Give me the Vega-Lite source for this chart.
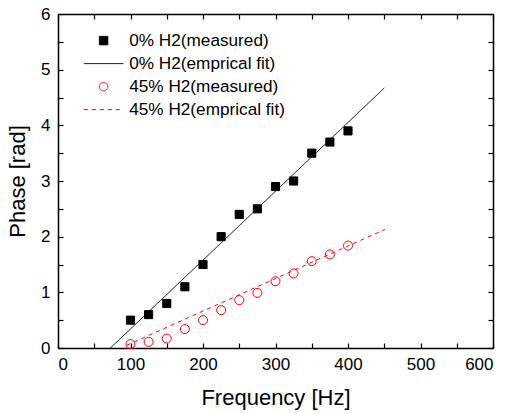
{
  "$schema": "https://vega.github.io/schema/vega-lite/v6.json",
  "width": 435,
  "height": 334,
  "autosize": {"type": "none"},
  "padding": {"left": 58, "top": 14, "right": 15, "bottom": 66},
  "config": {
    "font": "Liberation Sans",
    "view": {"stroke": null},
    "axis": {
      "grid": false,
      "domainColor": "black",
      "domainWidth": 1.5,
      "tickColor": "black",
      "tickWidth": 1.2,
      "tickSize": -5,
      "labelFontSize": 17,
      "labelColor": "black",
      "labelPadding": 13,
      "titleFontSize": 22,
      "titleFontWeight": "normal",
      "titleColor": "black"
    },
    "legend": {
      "orient": "none",
      "legendX": 37,
      "legendY": 18,
      "padding": 0,
      "labelFont": "Liberation Sans",
      "labelFontSize": 17.2,
      "labelColor": "black",
      "symbolSize": 72,
      "symbolStrokeWidth": 1,
      "symbolOpacity": 1,
      "symbolOffset": 0,
      "labelOffset": 17,
      "rowPadding": 5
    }
  },
  "resolve": {"axis": {"x": "independent", "y": "independent"}},
  "data": {
    "values": [
      {"series": "  0% H2(measured)", "f": 100, "p": 0.5},
      {"series": "  0% H2(measured)", "f": 125, "p": 0.6},
      {"series": "  0% H2(measured)", "f": 150, "p": 0.8},
      {"series": "  0% H2(measured)", "f": 175, "p": 1.1},
      {"series": "  0% H2(measured)", "f": 200, "p": 1.5},
      {"series": "  0% H2(measured)", "f": 225, "p": 2.0},
      {"series": "  0% H2(measured)", "f": 250, "p": 2.4},
      {"series": "  0% H2(measured)", "f": 275, "p": 2.5},
      {"series": "  0% H2(measured)", "f": 300, "p": 2.9},
      {"series": "  0% H2(measured)", "f": 325, "p": 3.0},
      {"series": "  0% H2(measured)", "f": 350, "p": 3.5},
      {"series": "  0% H2(measured)", "f": 375, "p": 3.7},
      {"series": "  0% H2(measured)", "f": 400, "p": 3.9},
      {"series": "  0% H2(emprical fit)", "f": 72.3, "p": 0},
      {"series": "  0% H2(emprical fit)", "f": 450, "p": 4.67},
      {"series": "45% H2(measured)", "f": 100, "p": 0.07},
      {"series": "45% H2(measured)", "f": 125, "p": 0.11},
      {"series": "45% H2(measured)", "f": 150, "p": 0.17},
      {"series": "45% H2(measured)", "f": 175, "p": 0.34},
      {"series": "45% H2(measured)", "f": 200, "p": 0.5},
      {"series": "45% H2(measured)", "f": 225, "p": 0.68},
      {"series": "45% H2(measured)", "f": 250, "p": 0.86},
      {"series": "45% H2(measured)", "f": 275, "p": 0.99},
      {"series": "45% H2(measured)", "f": 300, "p": 1.2},
      {"series": "45% H2(measured)", "f": 325, "p": 1.34},
      {"series": "45% H2(measured)", "f": 350, "p": 1.56},
      {"series": "45% H2(measured)", "f": 375, "p": 1.68},
      {"series": "45% H2(measured)", "f": 400, "p": 1.84},
      {"series": "45% H2(emprical fit)", "f": 95, "p": 0.05},
      {"series": "45% H2(emprical fit)", "f": 451, "p": 2.13}
    ]
  },
  "layer": [
    {
      "transform": [{"filter": "indexof(datum.series, '45%') < 0 && indexof(datum.series, 'measured') >= 0"}],
      "mark": {"type": "point", "size": 66, "strokeWidth": 1, "opacity": 1},
      "encoding": {
        "x": {
          "field": "f", "type": "quantitative",
          "scale": {"domain": [0, 600], "nice": false},
          "axis": {
            "orient": "bottom",
            "values": [0, 50, 100, 150, 200, 250, 300, 350, 400, 450, 500, 550, 600],
            "labelExpr": "datum.value % 100 === 0 ? '' + datum.value : ''",
            "title": "Frequency [Hz]",
            "titleBaseline": "alphabetic",
            "titleY": 56
          }
        },
        "y": {
          "field": "p", "type": "quantitative",
          "scale": {"domain": [0, 6], "nice": false},
          "axis": {
            "orient": "left",
            "values": [0, 0.5, 1, 1.5, 2, 2.5, 3, 3.5, 4, 4.5, 5, 5.5, 6],
            "labelExpr": "datum.value % 1 === 0 ? '' + datum.value : ''",
            "title": "Phase [rad]",
            "titleBaseline": "alphabetic",
            "titleX": -34
          }
        },
        "shape": {
          "field": "series", "type": "nominal", "legend": {"title": null},
          "scale": {
            "domain": ["  0% H2(measured)", "  0% H2(emprical fit)", "45% H2(measured)", "45% H2(emprical fit)"],
            "range": ["square", "M-4.67,0H4.67", "circle", "M-4.67,0H4.67"]
          }
        },
        "fill": {
          "field": "series", "type": "nominal", "legend": {"title": null},
          "scale": {
            "domain": ["  0% H2(measured)", "  0% H2(emprical fit)", "45% H2(measured)", "45% H2(emprical fit)"],
            "range": ["black", "transparent", "transparent", "transparent"]
          }
        },
        "stroke": {
          "field": "series", "type": "nominal", "legend": {"title": null},
          "scale": {
            "domain": ["  0% H2(measured)", "  0% H2(emprical fit)", "45% H2(measured)", "45% H2(emprical fit)"],
            "range": ["black", "black", "red", "red"]
          }
        }
      }
    },
    {
      "transform": [{"filter": "indexof(datum.series, '45%') < 0 && indexof(datum.series, 'fit') >= 0"}],
      "mark": {"type": "line", "strokeWidth": 1},
      "encoding": {
        "x": {
          "field": "f", "type": "quantitative",
          "axis": {
            "orient": "top",
            "values": [0, 50, 100, 150, 200, 250, 300, 350, 400, 450, 500, 550, 600],
            "labels": false,
            "title": null
          }
        },
        "y": {
          "field": "p", "type": "quantitative",
          "axis": {
            "orient": "right",
            "values": [0, 0.5, 1, 1.5, 2, 2.5, 3, 3.5, 4, 4.5, 5, 5.5, 6],
            "labels": false,
            "title": null
          }
        },
        "stroke": {"field": "series", "type": "nominal", "legend": {"title": null}},
        "strokeDash": {
          "field": "series", "type": "nominal", "legend": {"title": null},
          "scale": {
            "domain": ["  0% H2(measured)", "  0% H2(emprical fit)", "45% H2(measured)", "45% H2(emprical fit)"],
            "range": [[1, 0], [1, 0], [1, 0], [4, 4]]
          }
        }
      }
    },
    {
      "transform": [{"filter": "indexof(datum.series, '45%') >= 0 && indexof(datum.series, 'measured') >= 0"}],
      "mark": {"type": "point", "size": 81, "strokeWidth": 1, "opacity": 1},
      "encoding": {
        "x": {"field": "f", "type": "quantitative", "axis": null},
        "y": {"field": "p", "type": "quantitative", "axis": null},
        "shape": {"field": "series", "type": "nominal", "legend": {"title": null}},
        "fill": {"field": "series", "type": "nominal", "legend": {"title": null}},
        "stroke": {"field": "series", "type": "nominal", "legend": {"title": null}}
      }
    },
    {
      "transform": [{"filter": "indexof(datum.series, '45%') >= 0 && indexof(datum.series, 'fit') >= 0"}],
      "mark": {"type": "line", "strokeWidth": 1},
      "encoding": {
        "x": {"field": "f", "type": "quantitative", "axis": null},
        "y": {"field": "p", "type": "quantitative", "axis": null},
        "stroke": {"field": "series", "type": "nominal", "legend": {"title": null}},
        "strokeDash": {"field": "series", "type": "nominal", "legend": {"title": null}}
      }
    }
  ]
}
